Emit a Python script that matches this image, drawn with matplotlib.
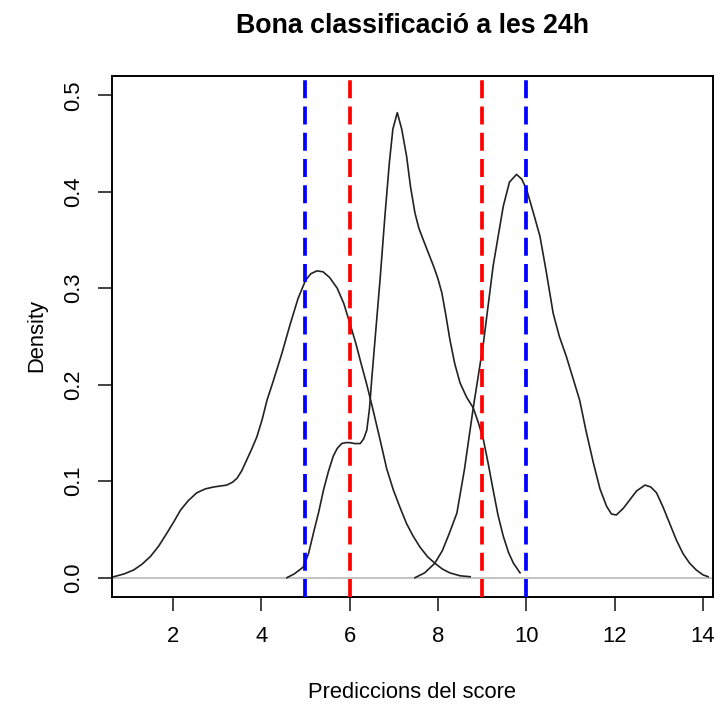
import matplotlib
matplotlib.use('Agg')
import matplotlib.pyplot as plt

plt.rcParams['font.family'] = ['Liberation Sans', 'DejaVu Sans']

# Density curves (x = score, y = density).
low_x = [0.66, 0.90, 1.11, 1.30, 1.49, 1.68, 1.86, 2.02, 2.17, 2.35, 2.54, 2.73,
         2.92, 3.07, 3.22, 3.35, 3.45, 3.56, 3.67, 3.78, 3.90, 4.02, 4.13, 4.28,
         4.47, 4.65, 4.83, 5.00, 5.12, 5.26, 5.40, 5.55, 5.72, 5.87, 6.01, 6.14,
         6.26, 6.39, 6.52, 6.69, 6.84, 6.99, 7.14, 7.29, 7.44, 7.59, 7.76, 7.93,
         8.10, 8.27, 8.50, 8.73]
low_y = [0.001, 0.004, 0.008, 0.014, 0.022, 0.033, 0.046, 0.058, 0.070, 0.080,
         0.088, 0.092, 0.094, 0.095, 0.096, 0.099, 0.103, 0.111, 0.122, 0.133,
         0.146, 0.164, 0.184, 0.205, 0.233, 0.262, 0.289, 0.308, 0.315, 0.318,
         0.317, 0.311, 0.300, 0.284, 0.263, 0.243, 0.222, 0.200, 0.176, 0.143,
         0.113, 0.091, 0.073, 0.056, 0.043, 0.032, 0.022, 0.015, 0.009, 0.005,
         0.002, 0.001]

mid_x = [4.58, 4.75, 4.95, 5.07, 5.18, 5.30, 5.41, 5.52, 5.63, 5.72, 5.82, 5.92,
         6.00, 6.12, 6.24, 6.32, 6.39, 6.45, 6.50, 6.60, 6.69, 6.80, 6.90, 6.98,
         7.08, 7.18, 7.29, 7.38, 7.48, 7.57, 7.67, 7.78, 7.90, 8.00, 8.09, 8.18,
         8.27, 8.38, 8.50, 8.65, 8.80, 8.92, 9.03, 9.14, 9.25, 9.36, 9.48, 9.60,
         9.71, 9.86]
mid_y = [0.000, 0.004, 0.011, 0.025, 0.046, 0.068, 0.091, 0.110, 0.126, 0.134,
         0.139, 0.140, 0.140, 0.139, 0.139, 0.144, 0.153, 0.175, 0.205, 0.260,
         0.309, 0.375, 0.430, 0.465, 0.482, 0.465, 0.437, 0.405, 0.378, 0.362,
         0.350, 0.337, 0.323, 0.310, 0.295, 0.272, 0.247, 0.222, 0.202, 0.187,
         0.176, 0.160, 0.143, 0.118, 0.091, 0.065, 0.043, 0.026, 0.015, 0.005]

high_x = [7.48, 7.70, 7.93, 8.10, 8.25, 8.43, 8.60, 8.80, 9.03, 9.25, 9.48, 9.62,
          9.78, 9.90, 10.01, 10.15, 10.31, 10.45, 10.61, 10.75, 10.91, 11.05,
          11.21, 11.35, 11.52, 11.67, 11.82, 11.93, 12.04, 12.20, 12.35, 12.50,
          12.69, 12.82, 12.95, 13.10, 13.25, 13.40, 13.55, 13.70, 13.85, 14.00, 14.12]
high_y = [0.000, 0.005, 0.015, 0.028, 0.045, 0.067, 0.112, 0.176, 0.243, 0.323,
          0.385, 0.410, 0.418, 0.413, 0.402, 0.380, 0.354, 0.318, 0.274, 0.250,
          0.229, 0.208, 0.184, 0.153, 0.119, 0.092, 0.074, 0.066, 0.065, 0.072,
          0.081, 0.090, 0.096, 0.094, 0.088, 0.073, 0.056, 0.039, 0.025, 0.015,
          0.008, 0.003, 0.001]

blue_cuts = [5, 10]
red_cuts = [6, 9]

x_ticks = [2, 4, 6, 8, 10, 12, 14]
y_ticks = [0.0, 0.1, 0.2, 0.3, 0.4, 0.5]

fig = plt.figure(figsize=(7.19, 7.04), dpi=100)
ax = fig.add_axes([0.1558, 0.1520, 0.8359, 0.7401])

ax.axhline(0, color='#BEBEBE', lw=1.3, zorder=1)
for xs, ys in [(low_x, low_y), (mid_x, mid_y), (high_x, high_y)]:
    ax.plot(xs, ys, color='#222222', lw=1.2, zorder=2,
            solid_joinstyle='round')

for c in blue_cuts:
    ax.axvline(c, color='#0000FF', lw=2.7, dashes=(4.8, 2.2), zorder=3)
for c in red_cuts:
    ax.axvline(c, color='#FF0000', lw=2.7, dashes=(4.8, 2.2), zorder=3)

ax.set_xlim(0.62, 14.23)
ax.set_ylim(-0.02, 0.52)
ax.set_xticks(x_ticks)
ax.set_yticks(y_ticks)
ax.set_xticklabels([str(t) for t in x_ticks])
ax.set_yticklabels(['%.1f' % t for t in y_ticks], rotation=90, va='center')
ax.tick_params(axis='both', length=9.9, width=1.2, labelsize=15.8, color='#222222')
ax.tick_params(axis='x', pad=11)
ax.tick_params(axis='y', pad=9.9)
for s in ax.spines.values():
    s.set_linewidth(1.4)

fig.text(412.5 / 719, 1 - 26 / 704, 'Bona classificació a les 24h',
         ha='center', va='center', fontsize=19.3, fontweight='bold')
fig.text(412.5 / 719, 1 - 692 / 704, 'Prediccions del score',
         ha='center', va='center', fontsize=15.8)
fig.text(37 / 719, 1 - 336 / 704, 'Density', rotation=90,
         ha='center', va='center', fontsize=15.8)

fig.savefig('out.png', dpi=100)
